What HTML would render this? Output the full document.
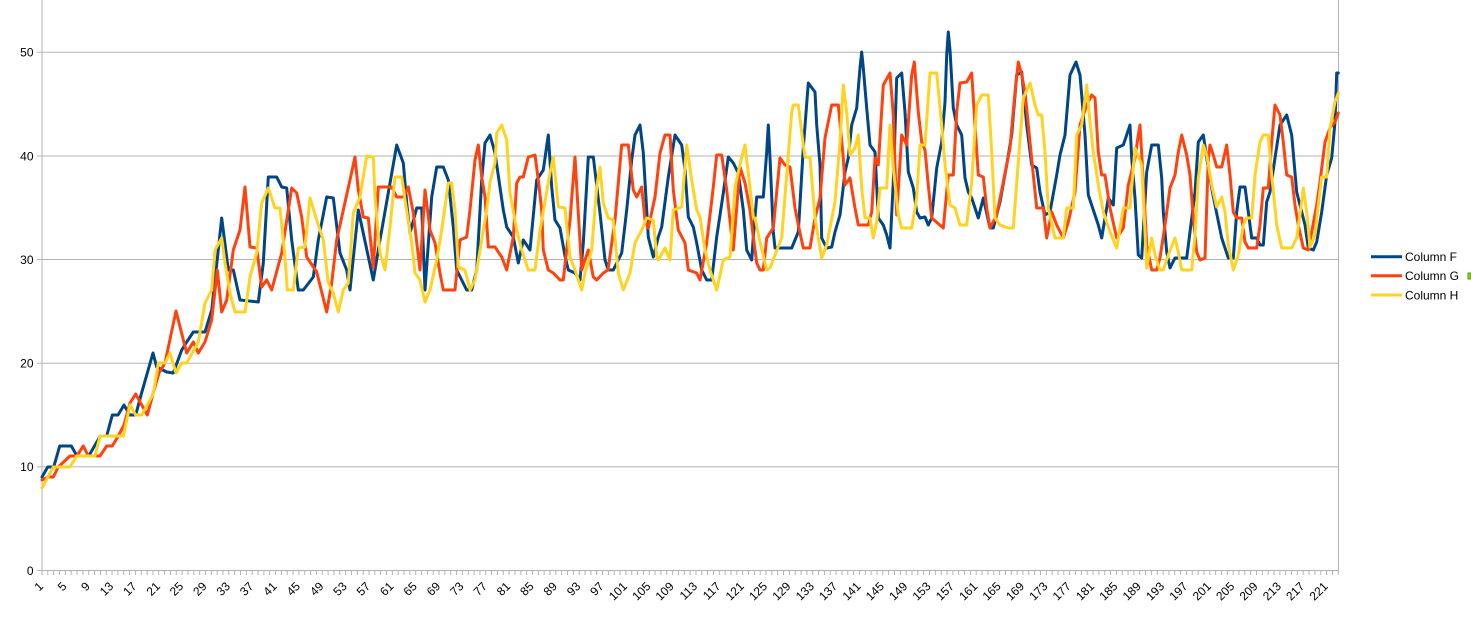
<!DOCTYPE html>
<html><head><meta charset="utf-8"><style>
html,body{margin:0;padding:0;background:#fff;}
svg{display:block;font-family:"Liberation Sans",Arial,sans-serif;}
</style></head><body>
<svg width="1471" height="617" viewBox="0 0 1471 617" xmlns="http://www.w3.org/2000/svg">
<defs>
<pattern id="tk" patternUnits="userSpaceOnUse" x="41.5" y="570" width="5.839" height="6">
<rect x="0" y="0" width="1" height="5" fill="#b3b3b3"/>
</pattern>
</defs>
<rect width="1471" height="617" fill="#fff"/>
<g stroke="#b3b3b3" stroke-width="1">
<line x1="37" y1="52.3" x2="1338.5" y2="52.3"/>
<line x1="37" y1="156" x2="1338.5" y2="156"/>
<line x1="37" y1="259.5" x2="1338.5" y2="259.5"/>
<line x1="37" y1="363.3" x2="1338.5" y2="363.3"/>
<line x1="37" y1="466.9" x2="1338.5" y2="466.9"/>
<line x1="37" y1="570.5" x2="1338.5" y2="570.5"/>
<line x1="42" y1="0" x2="42" y2="571"/>
<line x1="1338.5" y1="0" x2="1338.5" y2="571"/>
</g>
<rect x="41.5" y="571" width="1298" height="5" fill="url(#tk)"/>
<g font-size="12" fill="#000" text-anchor="end">
<text x="33.5" y="56.6">50</text>
<text x="33.5" y="160.3">40</text>
<text x="33.5" y="263.8">30</text>
<text x="33.5" y="367.6">20</text>
<text x="33.5" y="471.2">10</text>
<text x="33.5" y="574.8">0</text>
</g>
<g font-size="12" fill="#000" text-anchor="end">
<text transform="translate(44.0,587) rotate(-45)">1</text>
<text transform="translate(67.4,587) rotate(-45)">5</text>
<text transform="translate(90.7,587) rotate(-45)">9</text>
<text transform="translate(114.1,587) rotate(-45)">13</text>
<text transform="translate(137.4,587) rotate(-45)">17</text>
<text transform="translate(160.8,587) rotate(-45)">21</text>
<text transform="translate(184.1,587) rotate(-45)">25</text>
<text transform="translate(207.5,587) rotate(-45)">29</text>
<text transform="translate(230.8,587) rotate(-45)">33</text>
<text transform="translate(254.2,587) rotate(-45)">37</text>
<text transform="translate(277.6,587) rotate(-45)">41</text>
<text transform="translate(300.9,587) rotate(-45)">45</text>
<text transform="translate(324.3,587) rotate(-45)">49</text>
<text transform="translate(347.6,587) rotate(-45)">53</text>
<text transform="translate(371.0,587) rotate(-45)">57</text>
<text transform="translate(394.3,587) rotate(-45)">61</text>
<text transform="translate(417.7,587) rotate(-45)">65</text>
<text transform="translate(441.1,587) rotate(-45)">69</text>
<text transform="translate(464.4,587) rotate(-45)">73</text>
<text transform="translate(487.8,587) rotate(-45)">77</text>
<text transform="translate(511.1,587) rotate(-45)">81</text>
<text transform="translate(534.5,587) rotate(-45)">85</text>
<text transform="translate(557.8,587) rotate(-45)">89</text>
<text transform="translate(581.2,587) rotate(-45)">93</text>
<text transform="translate(604.5,587) rotate(-45)">97</text>
<text transform="translate(627.9,587) rotate(-45)">101</text>
<text transform="translate(651.3,587) rotate(-45)">105</text>
<text transform="translate(674.6,587) rotate(-45)">109</text>
<text transform="translate(698.0,587) rotate(-45)">113</text>
<text transform="translate(721.3,587) rotate(-45)">117</text>
<text transform="translate(744.7,587) rotate(-45)">121</text>
<text transform="translate(768.0,587) rotate(-45)">125</text>
<text transform="translate(791.4,587) rotate(-45)">129</text>
<text transform="translate(814.8,587) rotate(-45)">133</text>
<text transform="translate(838.1,587) rotate(-45)">137</text>
<text transform="translate(861.5,587) rotate(-45)">141</text>
<text transform="translate(884.8,587) rotate(-45)">145</text>
<text transform="translate(908.2,587) rotate(-45)">149</text>
<text transform="translate(931.5,587) rotate(-45)">153</text>
<text transform="translate(954.9,587) rotate(-45)">157</text>
<text transform="translate(978.2,587) rotate(-45)">161</text>
<text transform="translate(1001.6,587) rotate(-45)">165</text>
<text transform="translate(1025.0,587) rotate(-45)">169</text>
<text transform="translate(1048.3,587) rotate(-45)">173</text>
<text transform="translate(1071.7,587) rotate(-45)">177</text>
<text transform="translate(1095.0,587) rotate(-45)">181</text>
<text transform="translate(1118.4,587) rotate(-45)">185</text>
<text transform="translate(1141.7,587) rotate(-45)">189</text>
<text transform="translate(1165.1,587) rotate(-45)">193</text>
<text transform="translate(1188.4,587) rotate(-45)">197</text>
<text transform="translate(1211.8,587) rotate(-45)">201</text>
<text transform="translate(1235.2,587) rotate(-45)">205</text>
<text transform="translate(1258.5,587) rotate(-45)">209</text>
<text transform="translate(1281.9,587) rotate(-45)">213</text>
<text transform="translate(1305.2,587) rotate(-45)">217</text>
<text transform="translate(1328.6,587) rotate(-45)">221</text>
</g>
<g fill="none" stroke-width="3" stroke-linejoin="round" stroke-linecap="round">
<polyline stroke="#004586" points="42,477 47.7,467 53.7,467 59.7,446 71.3,446 77,456 88.7,456 100.3,436 106.7,436 112.3,415 118,415 124,405 129.7,415 135.7,415 141.3,394 147.3,373 153,353 156.7,367 166.7,372 173.3,373 181.7,350 186.7,342 193.3,332 205,332 211.7,310 217.3,259 221.7,218 228.3,270 233.3,270 240,300 258.3,302 263.3,263 268.3,177 276.7,177 281.7,187 286.7,188 291.7,240 298.3,290 303.3,290 313.3,277 318.3,240 326.7,197 333.3,198 340,253 346.7,270 350,290 358.3,210 373.3,280 380,240 396.7,145 403.3,163 406.7,203 410,233 416.7,208 421.7,208 425,290 431.7,197 436.7,167 443.3,167 448.3,180 453.3,227 456.7,270 466.7,290 471.7,290 476.7,270 481.7,180 485,143 490,135 495,153 503.3,210 506.7,227 513.3,237 518.3,263 523.3,240 530,250 536.7,180 543.3,170 548.3,135 551.7,187 555,220 560,228 565,256 568.3,270 575,273 580,280 583.3,243 588.3,157 593.3,157 600,213 605,260 608.3,270 613.3,270 621.7,253 626.7,210 631.7,160 635,135 640,125 643.3,153 648.3,237 653.3,257 658.3,237 661.7,227 668.3,177 675,135 681.7,145 685,170 688.3,217 693.3,227 696.7,243 701.7,270 706.7,280 711.7,280 716.7,237 723.3,193 728.3,157 733.3,163 738.3,173 743.3,210 746.7,250 751.7,260 753.3,237 756.7,197 763.3,197 766.7,152 768.3,125 770,158 773.3,232 775,248 791.7,248 798.3,232 803.3,148 808.3,83 815,92 816.7,125 820,165 821.7,238 826.7,248 831.7,247 835,232 840,215 845,172 848.3,158 851.7,125 856.7,108 860,68 861.7,52 863.3,68 866.7,108 870,145 875,152 878.3,218 883.3,225 886.7,235 890,248 893.3,182 896.7,78 901.7,73 905,112 908.3,172 913.3,188 916.7,212 920,218 925,217 928.3,225 931.7,218 936.7,168 941.7,142 945,102 946.7,55 948.3,32 950,50 953.3,108 956.7,125 961.7,135 965,178 968.3,192 971.7,198 978.3,218 983.3,198 990,228 993.3,228 1000,202 1006.7,165 1011.7,135 1016.7,75 1021.7,72 1026.7,125 1031.7,165 1036.7,168 1040,192 1045,215 1050,212 1056.7,175 1060,155 1065,135 1070,75 1076,62 1080,75 1085,135 1088.3,195 1098.3,225 1101.7,238 1108.3,198 1113.3,205 1116.7,148 1123.3,145 1130,125 1131.7,158 1135,198 1138.3,255 1141.7,258 1146.7,172 1151.7,145 1158.3,145 1161.7,178 1163.3,212 1166.7,252 1170,268 1175,258 1186.7,258 1190,232 1195,192 1198.3,142 1203.3,135 1206.7,158 1211.7,188 1215,205 1221.7,238 1228.3,258 1233.3,258 1236.7,212 1240,187 1245,187 1248.3,212 1251.7,238 1256.7,238 1260,245 1263.3,245 1266.7,202 1270,192 1275,158 1280,125 1286.7,115 1291.7,135 1296.7,192 1301.7,212 1305,225 1308.3,248 1313.3,250 1316.7,242 1321.7,212 1326.7,175 1331.7,158 1335,122 1336.7,73 1338.3,73"/>
<polyline stroke="#ff420e" points="42,480 48.3,477 53.3,477 58.3,467 70,456 76.7,456 83.3,446 88.3,456 100,456 106.7,446 112.3,446 118.3,436 124,425 130,403 135.7,394 141.7,405 147.3,415 153,394 159,373 165,363 176,311 186.7,353 193.3,342 198.3,353 205,342 211.7,320 217.3,270 221.7,312 226.7,300 233.3,250 240,230 245,187 250,247 256.7,248 261.7,287 266.7,280 271.7,290 281.7,253 291.7,188 296.7,193 301.7,217 306.7,257 316.7,272 326.7,312 331.7,283 336.7,240 343.3,210 350,180 355,157 358.3,190 363.3,217 368.3,218 373.3,268 378.3,187 391.7,187 396.7,197 403.3,197 408.3,187 413.3,213 420,270 425,190 430,230 435,243 440,273 443.3,290 455,290 460,240 466.7,237 470,210 475,160 478.3,145 481.7,177 485,197 488.3,247 495,247 501.7,257 506.7,270 513.3,237 516.7,183 520,177 523.3,177 528.3,157 535,155 538.3,180 541.7,210 543.3,250 548.3,270 553.3,273 560,280 563.3,280 570,220 575,157 578.3,213 581.7,270 588.3,250 593.3,277 596.7,280 603.3,273 608,270 615,220 621.7,145 628.3,145 633.3,190 636.7,197 641.7,187 645,220 648.3,228 655,197 660,153 665,135 670,135 673.3,190 678.3,230 685,243 688.3,270 696.7,273 700,280 706.7,243 713.3,187 716.7,155 721.7,155 726.7,190 731.7,237 733.3,250 740,167 745,183 750,210 753.3,237 756.7,263 760,270 763.3,270 766.7,238 773.3,228 776.7,192 780,158 785,165 790,167 795,208 798.3,225 803.3,248 810,248 815,218 820,198 825,138 831.7,105 838.3,105 843.3,158 845,185 850,178 855,208 858.3,225 868.3,225 871.7,212 875,158 878.3,165 883.3,85 890,73 893.3,115 896.7,215 901.7,135 906.7,145 911.7,75 914.3,62 918.3,112 921.7,142 925,150 928.3,185 931.7,218 943.3,228 948.3,175 953.3,175 956.7,112 960,83 966.7,82 971.7,73 975,125 978.3,175 983.3,177 986.7,208 990,228 996.7,215 1003.3,182 1010,148 1015,92 1018.3,62 1021.7,75 1025,92 1028.3,125 1033.3,175 1036.7,208 1043.3,208 1046.7,238 1051.7,212 1056.7,225 1063.3,238 1068.3,222 1075,192 1080,125 1086.7,105 1091.7,95 1095,98 1098.3,152 1101.7,175 1105,175 1110,208 1116.7,238 1123.3,228 1128.3,185 1135,158 1138.3,135 1140,125 1143.3,182 1146.7,245 1151.7,270 1156.7,270 1160,258 1165,225 1170,188 1175,175 1178.3,152 1181.7,135 1186.7,155 1190,175 1193.3,218 1196.7,252 1200,260 1205,258 1208.3,158 1210,145 1213.3,155 1216.7,167 1221.7,167 1226.7,145 1230,175 1233.3,212 1236.7,218 1241.7,218 1245,242 1248.3,248 1256.7,248 1260,225 1263.3,188 1268.3,188 1271.7,142 1275,105 1280,115 1283.3,142 1286.7,175 1291.7,177 1295,205 1298.3,225 1303.3,248 1308.3,250 1311.7,232 1316.7,205 1320,182 1325,142 1330,128 1335,122 1338.3,113"/>
<polyline stroke="#ffd320" points="42,488 53.3,467 70,467 76.7,456 95,456 100,436 123.3,436 130,405 135.7,415 141.7,415 153.3,394 158.3,363 165,363 170,353 176,373 181.7,363 186.7,363 198.3,342 205,303 211.7,290 215,250 221.7,238 225,263 230,293 235,312 245,312 250,277 256.7,253 261.7,203 268.3,188 275,208 280,208 285,257 287.3,290 293.3,290 298.3,248 305,247 310,198 316.7,220 323.3,240 328.3,283 333.3,293 338.3,312 343.3,290 348.3,283 353.3,213 360,197 366.7,156 373.3,157 375,197 380,253 385,270 390,227 395,177 401.7,177 405,200 411.7,243 415,273 420,280 425,302 430,290 436.7,260 441.7,230 448.3,183 451.7,183 455,210 458.3,267 465,270 470,290 475,280 480,250 486.7,210 490,182 495,163 496.7,133 501.7,125 506.7,140 510,193 516.7,230 521.7,250 528.3,270 535,270 540,230 550,173 553.3,157 558.3,207 565,208 570,257 575,270 581.7,290 585,273 591.7,250 596.7,187 600,167 603.3,203 608.3,218 613.3,220 618.3,273 623.3,290 630,273 635,243 641.7,230 646.7,218 653.3,220 656.7,257 658.3,260 665,248 670,260 673.3,210 681.7,207 686.7,145 691.7,180 696.7,210 700,217 705,250 710,270 716.7,290 723.3,260 730,257 735,187 741.7,157 745,145 748.3,173 753.3,217 755,218 760,242 766.7,270 770,268 775,255 781.7,238 786.7,175 791.7,112 793.3,105 798.3,105 803.3,145 805,157 810,157 815,218 821.7,258 826.7,245 835,202 840,142 843.3,85 846.7,112 850,155 855,148 858.3,135 861.7,188 865,218 870,218 873.3,238 876.7,222 880,188 886.7,188 890,125 893.3,168 898.3,215 901.7,228 911.7,228 916.7,198 920,145 925,145 930,73 936.7,73 941.7,125 945,165 950,205 955,208 960,225 966.7,225 971.7,182 976.7,105 981.7,95 988.3,95 991.7,152 995,218 1000,225 1008.3,228 1013.3,228 1018.3,162 1023.3,98 1030,83 1035,105 1038.3,115 1041.7,115 1045,152 1048.3,208 1055,238 1063.3,238 1066.7,208 1073.3,208 1076.7,135 1081.7,125 1086.7,85 1090,122 1093.3,152 1098.3,185 1103.3,212 1110,232 1116.7,248 1123.3,208 1130,208 1135,148 1141.7,165 1145,232 1146.7,268 1151.7,238 1155,255 1160,270 1163.3,270 1168.3,255 1175,238 1178.3,252 1181.7,270 1191.7,270 1195,235 1198.3,178 1203.3,145 1206.7,155 1211.7,185 1216.7,207 1221.7,197 1225,212 1228.3,245 1233.3,270 1238.3,255 1243.3,225 1246.7,218 1251.7,218 1255,175 1260,142 1263.3,135 1268.3,135 1271.7,175 1276.7,225 1281.7,248 1291.7,248 1296.7,238 1301.7,202 1303.3,188 1306.7,212 1310,247 1315,235 1318.3,205 1321.7,177 1326.7,177 1330,128 1335,102 1338.3,93"/>
</g>
<g stroke-width="3">
<line x1="1371" y1="256.7" x2="1402" y2="256.7" stroke="#004586"/>
<line x1="1371" y1="275.7" x2="1402" y2="275.7" stroke="#ff420e"/>
<line x1="1371" y1="295" x2="1402" y2="295" stroke="#ffd320"/>
</g>
<g font-size="12" fill="#000">
<text x="1405" y="261">Column F</text>
<text x="1405" y="280">Column G</text>
<text x="1405" y="299.3">Column H</text>
</g>
<rect x="1468" y="273" width="3" height="6" fill="#83ca43" stroke="#579d1c" stroke-width="1"/>
</svg>
</body></html>
